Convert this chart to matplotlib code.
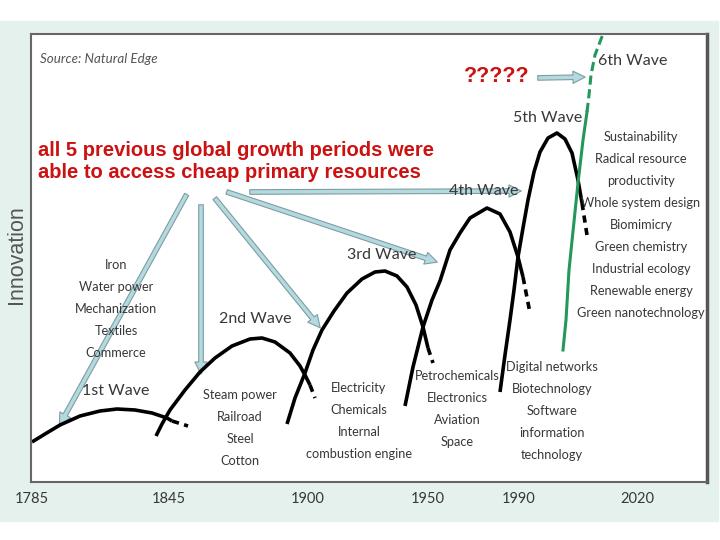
import matplotlib.pyplot as plt
from matplotlib.patches import Rectangle, FancyArrowPatch

# chart units: x to the right, y downwards
tick_pos = [32, 169, 308, 428, 519, 637]
tick_years = ["1785", "1845", "1900", "1950", "1990", "2020"]

# each wave: solid part, then the dashed tail
wave1_x = [32, 45, 60, 80, 100, 117, 135, 152, 167, 172]
wave1_y = [442, 434, 425, 416, 411, 409, 410, 413, 418, 421]
wave1_tail_x = [172, 188]
wave1_tail_y = [421, 426]

wave2_x = [156, 162, 170, 185, 200, 215, 232, 250, 262, 275, 290, 300, 305, 310]
wave2_y = [436, 424, 410, 390, 372, 358, 346, 339, 338, 342, 353, 366, 375, 385]
wave2_tail_x = [310, 315]
wave2_tail_y = [385, 398]

wave3_x = [287, 295, 305, 313, 322, 334, 347, 362, 375, 385, 397, 407, 416, 423, 428]
wave3_y = [424, 398, 373, 350, 330, 311, 293, 279, 272, 271, 276, 287, 305, 327, 348]
wave3_tail_x = [428, 433]
wave3_tail_y = [348, 363]

wave4_x = [405, 413, 423, 432, 440, 450, 460, 470, 487, 500, 510, 518, 523]
wave4_y = [406, 367, 327, 300, 281, 250, 233, 218, 208, 214, 232, 257, 277]
wave4_tail_x = [523, 530]
wave4_tail_y = [277, 313]

wave5_x = [500, 505, 510, 514, 518, 523, 528, 534, 540, 548, 557, 565, 572, 578, 582]
wave5_y = [392, 355, 320, 290, 257, 228, 200, 172, 152, 138, 133, 139, 153, 180, 203]
wave5_tail_x = [582, 587]
wave5_tail_y = [203, 235]

wave6_x = [563, 566, 569, 578, 583, 587]
wave6_y = [350, 320, 270, 183, 140, 112]
wave6_tail_x = [587, 589, 591, 595, 603]
wave6_tail_y = [112, 95, 75, 55, 34]

wave_names = ["1st Wave", "2nd Wave", "3rd Wave", "4th Wave", "5th Wave", "6th Wave"]
wave_items = [
    ["Iron", "Water power", "Mechanization", "Textiles", "Commerce"],
    ["Steam power", "Railroad", "Steel", "Cotton"],
    ["Electricity", "Chemicals", "Internal", "combustion engine"],
    ["Petrochemicals", "Electronics", "Aviation", "Space"],
    ["Digital networks", "Biotechnology", "Software", "information", "technology"],
    ["Sustainability", "Radical resource", "productivity", "Whole system design",
     "Biomimicry", "Green chemistry", "Industrial ecology", "Renewable energy",
     "Green nanotechnology"],
]

note_text = "all 5 previous global growth periods were\nable to access cheap primary resources"
question_text = "?????"

# layout
name_xy = [(116, 391), (255, 319), (382, 255), (484, 191), (548, 118), (633, 61)]
items_xy = [(116, 265), (240, 395), (359, 388), (457, 376), (552, 367), (641, 137)]
arrow_from = [(188, 192), (201, 202), (213, 196), (224, 191), (247, 192), (535, 78)]
arrow_to = [(58, 428), (201, 377), (322, 330), (440, 263), (524, 191), (588, 77)]

thin = ["Lato", "DejaVu Sans"]
arial = ["Liberation Sans", "DejaVu Sans"]
ink = "#383838"

fig = plt.figure(figsize=(7.2, 5.4), dpi=100)
fig.patches.append(Rectangle((0, 19 / 540), 718 / 720, 500 / 540,
                             transform=fig.transFigure, color="#e4f1ed", zorder=-10))

ax = fig.add_axes([31 / 720, 58 / 540, 676 / 720, 448 / 540])
ax.set_zorder(5)
ax.set_xlim(31, 707)
ax.set_ylim(482, 34)
ax.set_facecolor("white")
for side in ax.spines.values():
    side.set_color("#666666")
    side.set_linewidth(1.5)
ax.spines["right"].set_linewidth(2.5)
ax.spines["right"].set_color("#555555")
ax.set_yticks([])
ax.set_xticks(tick_pos, tick_years)
ax.tick_params(axis="x", length=0, pad=7, labelsize=10.5, labelcolor=ink)
for lab in ax.get_xticklabels():
    lab.set_family(thin)

waves = [
    (wave1_x, wave1_y, wave1_tail_x, wave1_tail_y),
    (wave2_x, wave2_y, wave2_tail_x, wave2_tail_y),
    (wave3_x, wave3_y, wave3_tail_x, wave3_tail_y),
    (wave4_x, wave4_y, wave4_tail_x, wave4_tail_y),
    (wave5_x, wave5_y, wave5_tail_x, wave5_tail_y),
]
for wx, wy, tx, ty in waves:
    ax.plot(wx, wy, color="black", lw=2.6, solid_capstyle="butt", solid_joinstyle="round")
    ax.plot(tx, ty, color="black", lw=2.6, ls=(0, (2, 1.5)))

ax.plot(wave6_x, wave6_y, color="#23985a", lw=2.2, solid_joinstyle="round")
ax.plot(wave6_tail_x, wave6_tail_y, color="#23985a", lw=2.2, ls=(0, (3, 1.5)), clip_on=False)

for name, (x, y) in zip(wave_names, name_xy):
    ax.text(x, y, name, ha="center", va="center", fontsize=11.5, color=ink, family=thin)

for lines, (x, y0) in zip(wave_items, items_xy):
    for i, line in enumerate(lines):
        ax.text(x, y0 + 22 * i, line, ha="center", va="center", fontsize=9.2,
                color=ink, family=thin)

ax.text(40, 59, "Source: Natural Edge", ha="left", va="center", fontsize=9.6,
        style="italic", color="#555555", family=thin)
fig.text(17 / 720, 1 - 255 / 540, "Innovation", rotation=90, ha="center", va="center",
         fontsize=15.5, color="#555555", family=arial)

ax.text(38, 162, note_text, ha="left", va="center", fontsize=14.5, fontweight="bold",
        color="#cc1111", family=arial, linespacing=1.2)
ax.text(497, 76, question_text, ha="center", va="center", fontsize=15.5, fontweight="bold",
        color="#cc1111", family=arial)

for p0, p1 in zip(arrow_from, arrow_to):
    ax.add_patch(FancyArrowPatch(p0, p1, arrowstyle="simple,head_length=0.8,head_width=0.8,tail_width=0.3",
                                 mutation_scale=11, fc="#b4d9de", ec="#7d9da2", lw=0.8))

fig.savefig("out.png", dpi=100)
